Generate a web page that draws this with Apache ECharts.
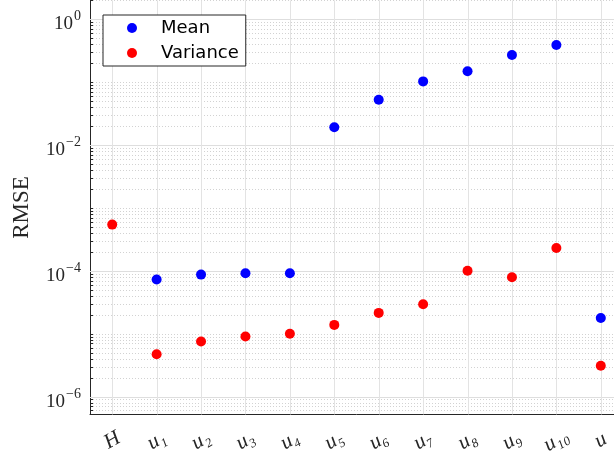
<!DOCTYPE html>
<html>
<head>
<meta charset="utf-8">
<script src="https://cdn.jsdelivr.net/npm/echarts@6/dist/echarts.min.js"></script>
<style>
  html, body { margin: 0; padding: 0; background: #fff; overflow: hidden; }
  /* the original figure is cropped on the right, so the chart is a bit wider than the window */
  #chart { width: 623px; height: 455px; }
</style>
</head>
<body>
<div id="chart"></div>
<script>
  const categories = ['H', 'u1', 'u2', 'u3', 'u4', 'u5', 'u6', 'u7', 'u8', 'u9', 'u10', 'u'];
  const meanValues = [null, 7.25e-5, 8.7e-5, 9.15e-5, 9.15e-5, 1.92e-2, 0.0527, 0.103, 0.149, 0.27, 0.39, 1.78e-5];
  const varianceValues = [5.43e-4, 4.72e-6, 7.5e-6, 9.0e-6, 1.0e-5, 1.38e-5, 2.14e-5, 2.94e-5, 1.0e-4, 7.9e-5, 2.31e-4, 3.09e-6];
  const yLabelExponents = [-6, -4, -2, 0];

  const yMin = 5.2e-7;
  const yMax = 2;
  const axisColor = '#262626';
  const serif = 'Liberation Serif';

  // u10 -> u₁₀
  const subDigits = '₀₁₂₃₄₅₆₇₈₉';
  const toSubscript = name => name[0] + name.slice(1).split('').map(d => subDigits[+d]).join('');

  // grid lines: [x, y, kind] kind 1 = labelled decade, 0 = minor (dotted), 2 = vertical
  const gridData = [];
  for (let e = -7; e <= 0; e++) {
    for (let m = 1; m <= 9; m++) {
      const v = m * Math.pow(10, e);
      if (v < yMin || v > yMax) continue;
      gridData.push([0, v, (m === 1 && yLabelExponents.includes(e)) ? 1 : 0]);
    }
  }
  categories.forEach((c, i) => gridData.push([i, 1, 2]));

  const renderGrid = (params, api) => {
    const cs = params.coordSys;
    const kind = api.value(2);
    if (kind === 2) {
      const x = Math.round(api.coord([api.value(0), 1])[0]) + 0.5;
      return {
        type: 'line',
        shape: { x1: x, y1: cs.y, x2: x, y2: cs.y + cs.height },
        style: { stroke: '#e3e3e3', lineWidth: 1 }
      };
    }
    const y = Math.round(api.coord([0, api.value(1)])[1]) + 0.5;
    if (kind === 1) {
      return {
        type: 'line',
        shape: { x1: cs.x, y1: y, x2: cs.x + cs.width, y2: y },
        style: { stroke: '#dedede', lineWidth: 1 }
      };
    }
    return {
      type: 'group',
      children: [
        {
          type: 'line',
          shape: { x1: cs.x, y1: y, x2: cs.x + cs.width, y2: y },
          style: { stroke: '#d2d2d2', lineWidth: 1, lineDash: [1, 2] }
        },
        {
          type: 'line',
          shape: { x1: cs.x, y1: y, x2: cs.x + 3, y2: y },
          style: { stroke: axisColor, lineWidth: 1 }
        }
      ]
    };
  };

  const chart = echarts.init(document.getElementById('chart'));
  chart.setOption({
    animation: false,
    backgroundColor: '#fff',
    grid: { left: 90, right: 0, top: 0.4, height: 414, outerBoundsMode: 'none', containLabel: false },
    legend: {
      data: ['Mean', 'Variance'],
      orient: 'vertical',
      left: 103,
      top: 15,
      icon: 'circle',
      itemWidth: 10,
      itemHeight: 10,
      itemGap: 7,
      padding: [4, 7, 4, 24],
      backgroundColor: '#fff',
      borderColor: axisColor,
      borderWidth: 1,
      borderRadius: 0,
      textStyle: { fontFamily: 'DejaVu Sans', fontSize: 18, lineHeight: 18, color: '#000', padding: [0, 0, 0, 19] }
    },
    xAxis: {
      type: 'category',
      data: categories,
      boundaryGap: true,
      axisLine: { lineStyle: { color: axisColor, width: 1 } },
      axisTick: { inside: true, alignWithLabel: true, length: 4, lineStyle: { color: axisColor } },
      splitLine: { show: false },
      axisLabel: {
        interval: 0,
        rotate: 30,
        align: 'center',
        verticalAlign: 'middle',
        margin: 26,
        fontFamily: serif,
        fontStyle: 'italic',
        fontSize: 21,
        color: axisColor,
        formatter: toSubscript
      }
    },
    yAxis: {
      type: 'log',
      logBase: 10,
      min: yMin,
      max: yMax,
      name: 'RMSE',
      nameLocation: 'middle',
      nameGap: 57,
      nameTextStyle: { fontFamily: serif, fontSize: 23, color: axisColor },
      axisLine: { show: true, lineStyle: { color: axisColor, width: 1 } },
      axisTick: { inside: true, length: 5, lineStyle: { color: axisColor } },
      splitLine: { show: false },
      axisLabel: {
        showMinLabel: false,
        showMaxLabel: false,
        margin: 9,
        color: axisColor,
        formatter: value => {
          const e = Math.log10(value);
          const r = Math.round(e);
          if (Math.abs(e - r) > 1e-6 || !yLabelExponents.includes(r)) return '';
          return '{b|10}{s|' + (r < 0 ? '\u2212' + (-r) : r) + '}';
        },
        rich: {
          b: { fontFamily: serif, fontSize: 19, lineHeight: 19, padding: [5, 0, 5, 0], verticalAlign: 'top', color: axisColor },
          s: { fontFamily: serif, fontSize: 14, lineHeight: 14, padding: [0, 0, 0, 1], verticalAlign: 'top', color: axisColor }
        }
      }
    },
    series: [
      {
        name: 'grid',
        type: 'custom',
        coordinateSystem: 'cartesian2d',
        data: gridData,
        encode: { x: 0, y: 1 },
        renderItem: renderGrid,
        silent: true,
        clip: false,
        z: 1
      },
      {
        name: 'Mean',
        type: 'scatter',
        data: meanValues,
        symbolSize: 10,
        itemStyle: { color: '#0000ff', opacity: 1 },
        z: 3
      },
      {
        name: 'Variance',
        type: 'scatter',
        data: varianceValues,
        symbolSize: 10,
        itemStyle: { color: '#ff0000', opacity: 1 },
        z: 3
      }
    ]
  });
</script>
</body>
</html>
